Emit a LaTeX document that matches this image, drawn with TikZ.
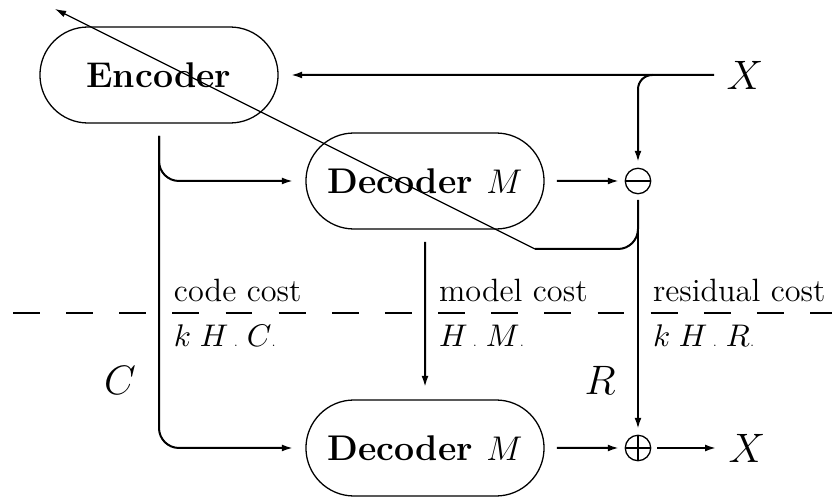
\documentclass[tikz,border=0pt]{standalone}
\usepackage{tikz}
\usetikzlibrary{arrows.meta,shapes.misc,positioning}

\begin{document}
\begin{tikzpicture}[
  x=0.35pt,y=-0.35pt,
  >={Latex[length=3.9pt,width=2.4pt]},
  line width=0.7pt,
  coder/.style={rounded rectangle,draw,line width=0.45pt,
    minimum width=90pt,minimum height=33.6pt,outer sep=4.5pt,
    font=\fontsize{12.5}{14}\selectfont\bfseries},
  junction/.style={circle,draw,line width=0.45pt,minimum size=8.9pt,
    inner sep=0pt,outer sep=2.2pt},
  minusnode/.style={junction,path picture={
    \draw[line width=0.45pt] (path picture bounding box.west)
      -- (path picture bounding box.east);}},
  plusnode/.style={junction,path picture={
    \draw[line width=0.45pt] (path picture bounding box.west)
      -- (path picture bounding box.east)
      (path picture bounding box.north) -- (path picture bounding box.south);}},
  signal/.style={font=\fontsize{13.3}{15}\selectfont,inner sep=4pt},
  cost/.style={anchor=base west,inner sep=0pt,
    font=\fontsize{11.3}{13}\selectfont},
  bits/.style={cost,font=\fontsize{10.8}{12}\selectfont},
  border/.style={dash pattern=on 9.4pt off 9.2pt,line width=1pt}
  ]

  \useasboundingbox (0,0) rectangle (832,498);

  \node[coder]     (enc)   at (159,75)  {Encoder};
  \node[coder]     (decT)  at (425,181) {Decoder $M$};
  \node[coder]     (decB)  at (425,448) {Decoder $M$};
  \node[minusnode] (minus) at (638,181) {};
  \node[plusnode]  (plus)  at (638,448) {};
  \node[signal]    (xin)   at (745,75)  {$X$};
  \node[signal]    (xout)  at (747,448) {$X$};
  \node[signal,anchor=base] (clab) at (120,395) {$C$};
  \node[signal,anchor=base] (rlab) at (600,395) {$R$};

  % costs above and below the channel
  \node[cost] (ccost) at (173,302) {code cost};
  \node[cost] (mcost) at (438,302) {model cost};
  \node[cost] (rcost) at (652,302) {residual cost};
  \node[bits] (cbits) at (173,347) {$k\;H$\,{\fontsize{4}{4}\selectfont.}\;$C${\fontsize{4}{4}\selectfont.}};
  \node[bits] (mbits) at (438,347) {$H$\,{\fontsize{4}{4}\selectfont.}\;$M${\fontsize{4}{4}\selectfont.}};
  \node[bits] (rbits) at (652,347) {$k\;H$\,{\fontsize{4}{4}\selectfont.}\;$R${\fontsize{4}{4}\selectfont.}};

  \coordinate (tap)   at (652,75);
  \coordinate (knee)  at (535,249);
  \coordinate (tip)   at (55,9);
  \coordinate (dashL) at (13,313);
  \coordinate (dashR) at (832,313);

  \draw[border] (dashL) -- (dashR);

  \draw[->] (xin) -- (enc);
  \draw[->,rounded corners=5pt] (tap) -| (minus);
  \draw[->,rounded corners=7pt] (enc.south) |- (decT);
  \draw[->,rounded corners=7pt] (enc.south) |- (decB);
  \draw[->] (decT) -- (minus);
  \draw[->] (decT) -- (decB);
  \draw[->] (minus) -- (plus);
  \draw[rounded corners=7pt] (minus.south) |- (knee);
  \draw[->,line width=0.4pt] (knee) -- (tip);
  \draw[->] (decB) -- (plus);
  \draw[->] (plus) -- (xout);
\end{tikzpicture}
\end{document}
